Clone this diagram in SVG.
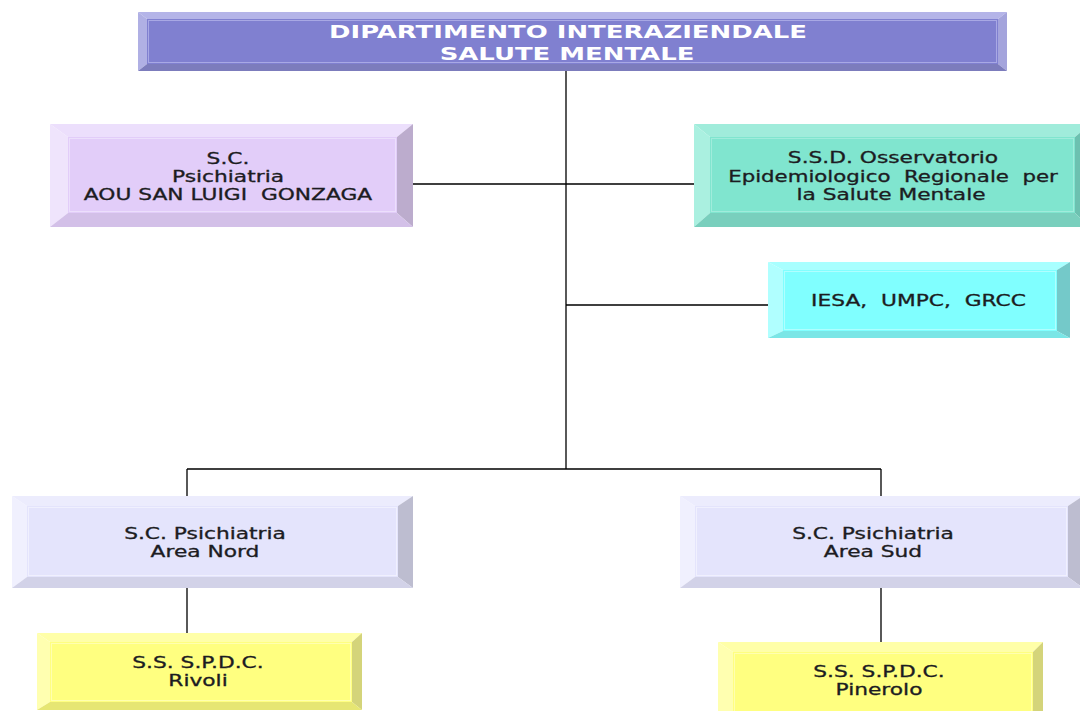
<svg xmlns="http://www.w3.org/2000/svg" width="1080" height="711" viewBox="0 0 1080 711">
<style>
.t{font-family:"DejaVu Sans",Verdana,sans-serif;font-size:15px;fill:#1c1c22;stroke:#1c1c22;stroke-width:0.3;text-anchor:middle}
.h{font-family:"DejaVu Sans",Verdana,sans-serif;font-size:18px;font-weight:bold;fill:#ffffff;text-anchor:middle}
.ln{stroke:#000;stroke-width:1.3;fill:none}
.in{fill:none;stroke-width:1}
</style>
<rect width="1080" height="711" fill="#ffffff"/>
<g id="connectors">
<path class="ln" d="M566,71V469M413,184H694M566,305H768M187,469H881M187,469V496M881,469V496M187,588V633M881,588V642"/>
</g>
<g id="dipartimento">
<polygon points="138,12 1007,12 998,19 147,19" fill="#b4b4e8"/>
<polygon points="138,12 147,19 147,64 138,71" fill="#b0b0e4"/>
<polygon points="1007,12 1007,71 998,64 998,19" fill="#a4a4dc"/>
<polygon points="138,71 147,64 998,64 1007,71" fill="#7c7cbc"/>
<rect x="147" y="19" width="851" height="45" fill="#8080d0"/>
<rect class="in" x="148.5" y="20.5" width="848" height="42" stroke="#a8a8e4"/>
<text class="h" transform="translate(568,38) scale(1.44,1)">DIPARTIMENTO INTERAZIENDALE</text>
<text class="h" transform="translate(567,59.5) scale(1.44,1)">SALUTE MENTALE</text>
</g>
<g id="sc-psichiatria-aou">
<polygon points="50,124 413,124 397,137 68,137" fill="#ecdffc"/>
<polygon points="50,124 68,137 68,213 50,227" fill="#efe4fc"/>
<polygon points="413,124 413,227 397,213 397,137" fill="#bcaccd"/>
<polygon points="50,227 68,213 397,213 413,227" fill="#d3c0e8"/>
<rect x="68" y="137" width="329" height="76" fill="#e2cdf9"/>
<rect class="in" x="69.5" y="138.5" width="326" height="73" stroke="#ecdffc"/>
<text class="t" transform="translate(228,164) scale(1.45,1)">S.C.</text>
<text class="t" transform="translate(228,182) scale(1.45,1)">Psichiatria</text>
<text class="t" xml:space="preserve" transform="translate(228,200) scale(1.45,1)">AOU SAN LUIGI  GONZAGA</text>
</g>
<g id="ssd-osservatorio">
<polygon points="694,124 1090,124 1075,137 710,137" fill="#a0ecdb"/>
<polygon points="694,124 710,137 710,213 694,227" fill="#aaf0e0"/>
<polygon points="1090,124 1090,227 1075,213 1075,137" fill="#6cc1b0"/>
<polygon points="694,227 710,213 1075,213 1090,227" fill="#79cfbd"/>
<rect x="710" y="137" width="365" height="76" fill="#80e5cf"/>
<rect class="in" x="711.5" y="138.5" width="362" height="73" stroke="#a0ecdb"/>
<text class="t" transform="translate(893,163) scale(1.45,1)">S.S.D. Osservatorio</text>
<text class="t" xml:space="preserve" transform="translate(893,181.5) scale(1.42,1)">Epidemiologico  Regionale  per</text>
<text class="t" transform="translate(891,200) scale(1.45,1)">la Salute Mentale</text>
</g>
<g id="iesa">
<polygon points="768,262 1070,262 1057,270 783,270" fill="#a8ffff"/>
<polygon points="768,262 783,270 783,331 768,338" fill="#b0ffff"/>
<polygon points="1070,262 1070,338 1057,331 1057,270" fill="#74c9c9"/>
<polygon points="768,338 783,331 1057,331 1070,338" fill="#7ae6e6"/>
<rect x="783" y="270" width="274" height="61" fill="#80ffff"/>
<rect class="in" x="784.5" y="271.5" width="271" height="58" stroke="#b0ffff"/>
<text class="t" xml:space="preserve" transform="translate(918.5,305.5) scale(1.45,1)">IESA,  UMPC,  GRCC</text>
</g>
<g id="area-nord">
<polygon points="12,496 413,496 398,506 27,506" fill="#ececfd"/>
<polygon points="12,496 27,506 27,577 12,588" fill="#f0f0fe"/>
<polygon points="413,496 413,588 398,577 398,506" fill="#bdbdd0"/>
<polygon points="12,588 27,577 398,577 413,588" fill="#d2d2e8"/>
<rect x="27" y="506" width="371" height="71" fill="#e4e4fc"/>
<rect class="in" x="28.5" y="507.5" width="368" height="68" stroke="#f0f0fe"/>
<text class="t" transform="translate(205,538.5) scale(1.45,1)">S.C. Psichiatria</text>
<text class="t" transform="translate(205,556.5) scale(1.45,1)">Area Nord</text>
</g>
<g id="area-sud">
<polygon points="680,496 1083,496 1068,506 695,506" fill="#ececfd"/>
<polygon points="680,496 695,506 695,577 680,588" fill="#f0f0fe"/>
<polygon points="1083,496 1083,588 1068,577 1068,506" fill="#bdbdd0"/>
<polygon points="680,588 695,577 1068,577 1083,588" fill="#d2d2e8"/>
<rect x="695" y="506" width="373" height="71" fill="#e4e4fc"/>
<rect class="in" x="696.5" y="507.5" width="370" height="68" stroke="#f0f0fe"/>
<text class="t" transform="translate(873,538.5) scale(1.45,1)">S.C. Psichiatria</text>
<text class="t" transform="translate(873,556.5) scale(1.45,1)">Area Sud</text>
</g>
<g id="spdc-rivoli">
<polygon points="37,633 362,633 352,642 50,642" fill="#ffffa8"/>
<polygon points="37,633 50,642 50,702 37,710" fill="#ffffb0"/>
<polygon points="362,633 362,710 352,702 352,642" fill="#d4d47a"/>
<polygon points="37,710 50,702 352,702 362,710" fill="#e6e673"/>
<rect x="50" y="642" width="302" height="60" fill="#ffff80"/>
<rect class="in" x="51.5" y="643.5" width="299" height="57" stroke="#ffffb0"/>
<text class="t" transform="translate(198,667.5) scale(1.45,1)">S.S. S.P.D.C.</text>
<text class="t" transform="translate(198,686) scale(1.45,1)">Rivoli</text>
</g>
<g id="spdc-pinerolo">
<polygon points="718,642 1043,642 1033,652 733,652" fill="#ffffa8"/>
<polygon points="718,642 733,652 733,712 718,720" fill="#ffffb0"/>
<polygon points="1043,642 1043,720 1033,712 1033,652" fill="#d4d47a"/>
<rect x="733" y="652" width="300" height="60" fill="#ffff80"/>
<rect class="in" x="734.5" y="653.5" width="297" height="60" stroke="#ffffb0"/>
<text class="t" transform="translate(879,676.5) scale(1.45,1)">S.S. S.P.D.C.</text>
<text class="t" transform="translate(879,695) scale(1.45,1)">Pinerolo</text>
</g>
</svg>
